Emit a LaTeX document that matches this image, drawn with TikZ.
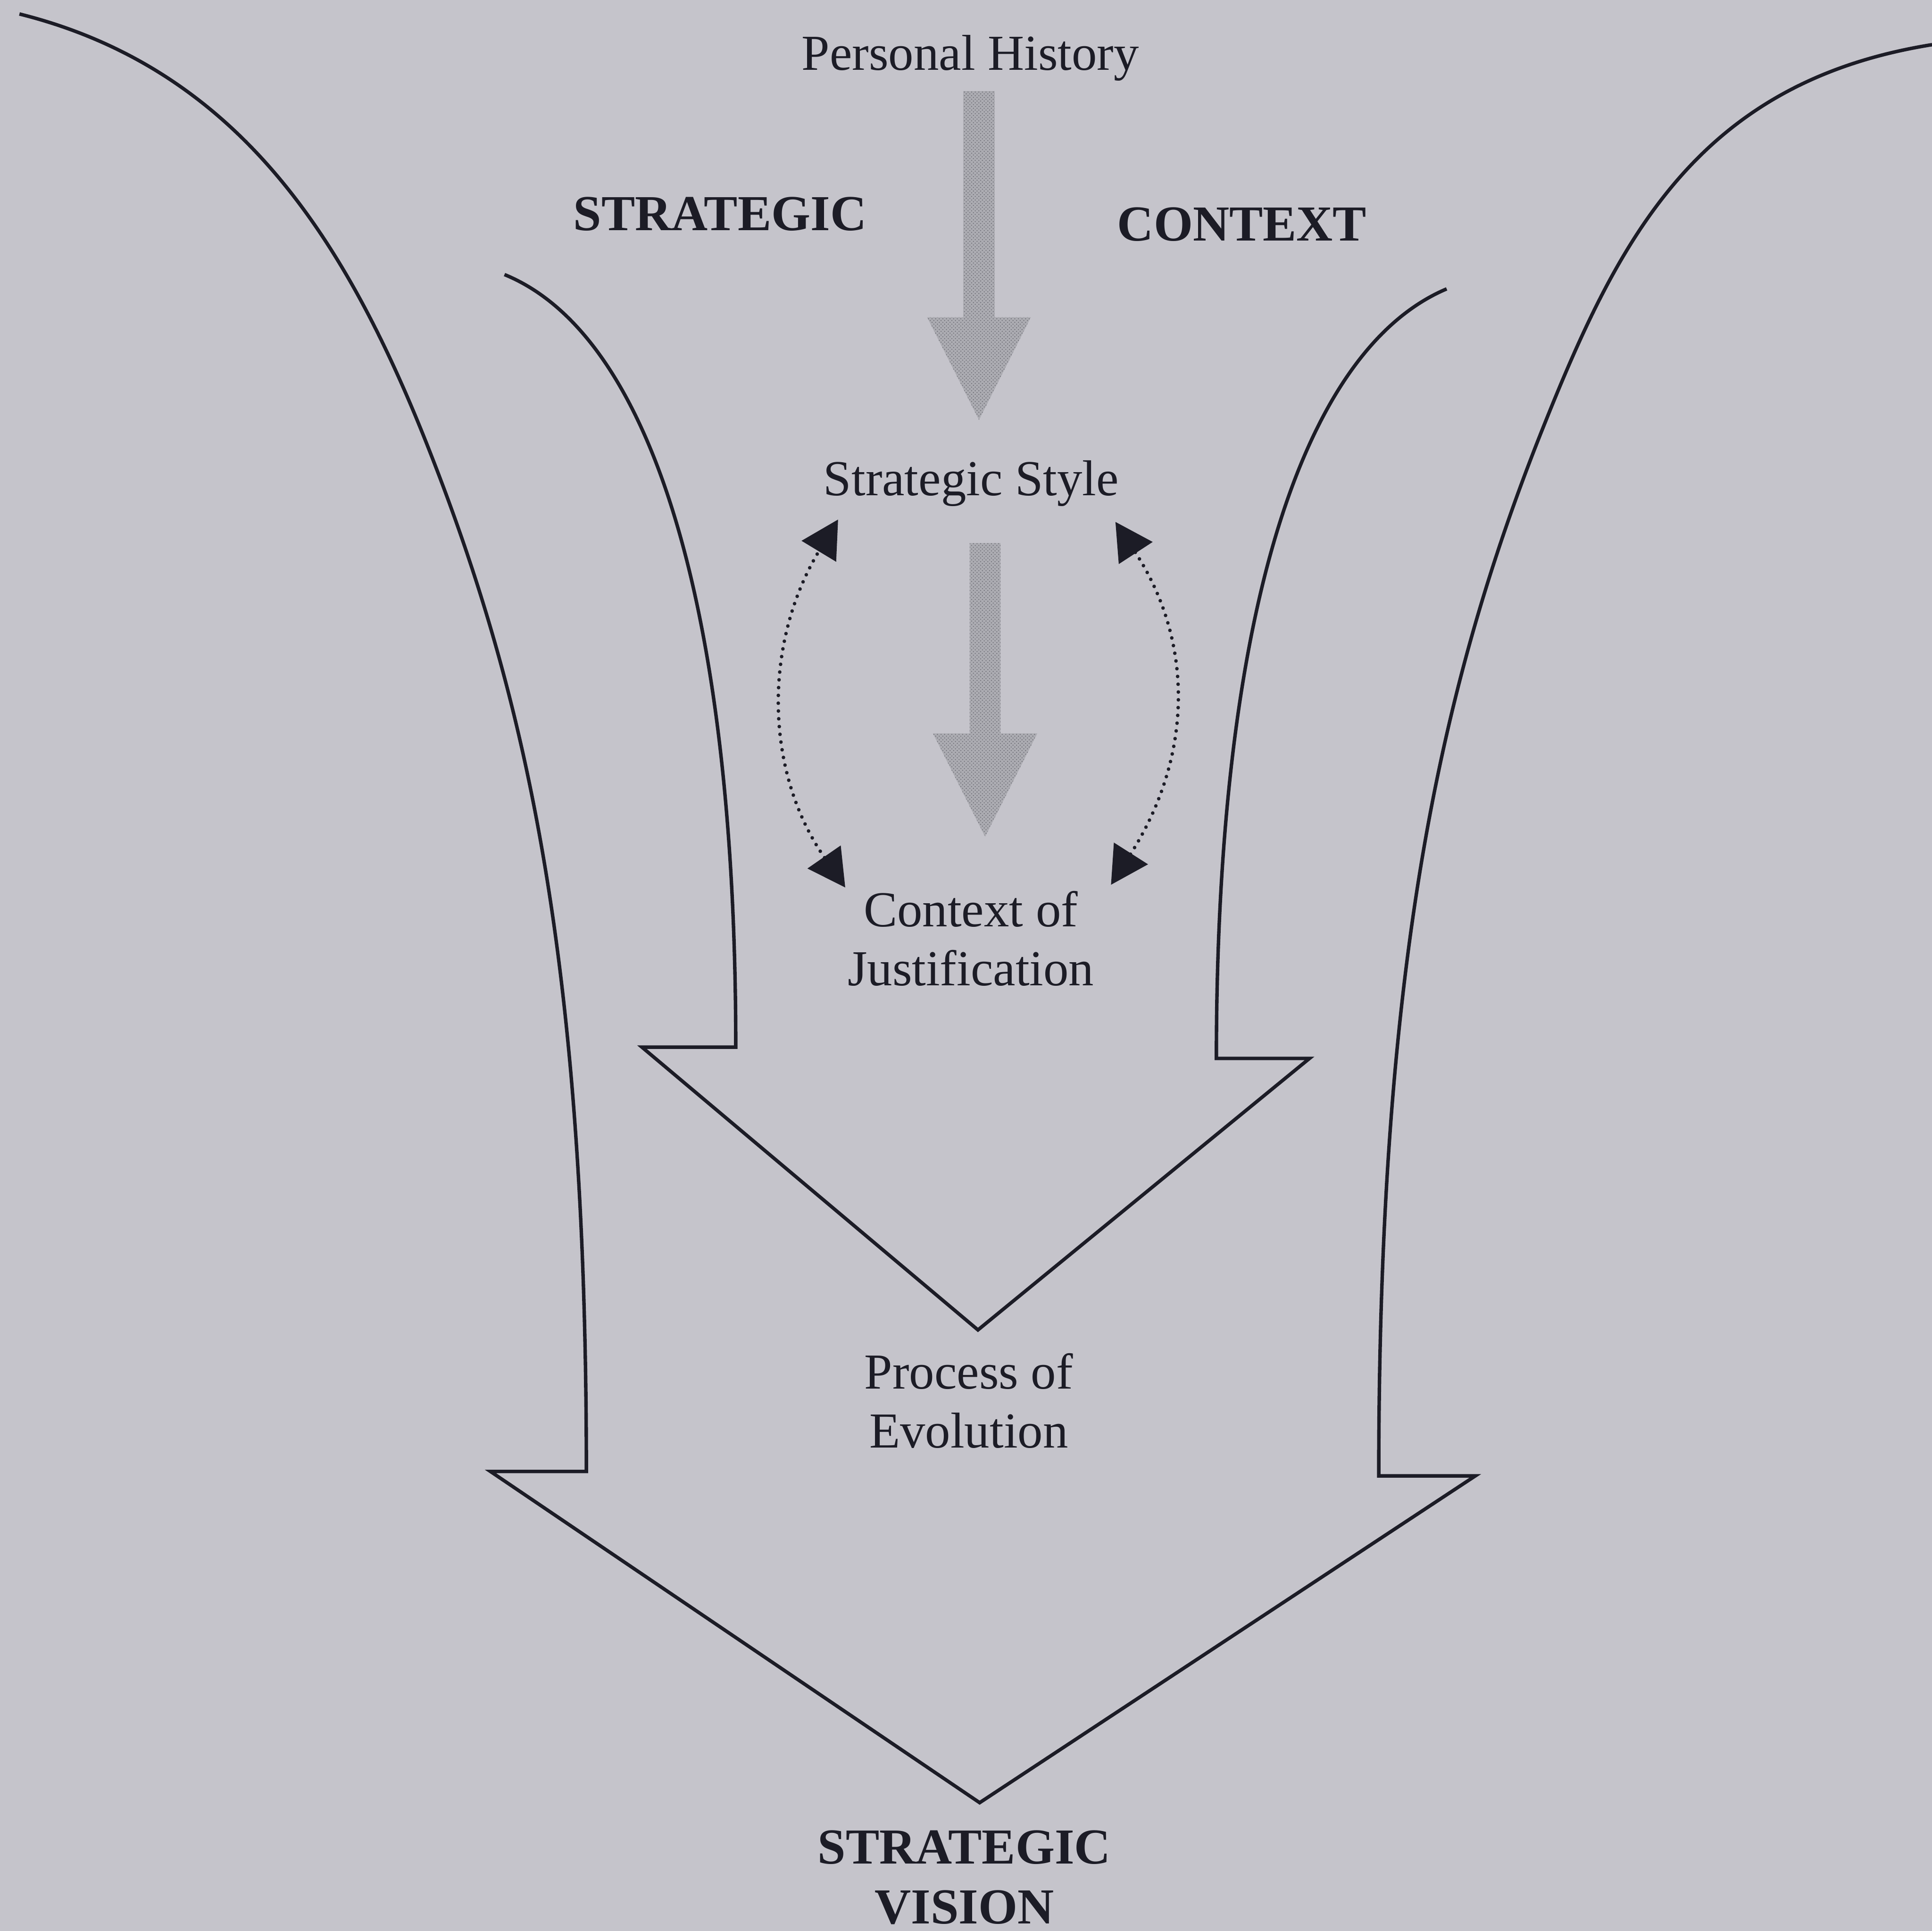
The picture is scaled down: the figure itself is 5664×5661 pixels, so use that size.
\documentclass[tikz,border=0pt]{standalone}
\usepackage{fontspec}
\setmainfont{Liberation Serif}
\usetikzlibrary{arrows.meta,patterns}

\definecolor{paper}{RGB}{197,196,203}
\definecolor{ink}{RGB}{28,28,38}
\definecolor{stipple}{RGB}{172,172,178}
\definecolor{grain}{RGB}{112,112,120}

\begin{document}
\begin{tikzpicture}[x=0.01cm, y=-0.01cm,
  plaintext/.style={text=ink, inner sep=0pt, align=center,
    font=\fontsize{42}{49.2}\selectfont},
  boldtext/.style={text=ink, inner sep=0pt, align=center,
    font=\fontsize{42}{50}\selectfont\bfseries},
  shapeline/.style={draw=ink, line width=2.9pt, line join=miter},
  flowarrow/.style={fill=stipple, draw=none,
    postaction={pattern=crosshatch dots, pattern color=grain}},
  linkarrow/.style={draw=ink, line width=3pt, line cap=round,
    dash pattern=on 0pt off 6.5pt,
    {Triangle[length=31pt,width=33pt]}-{Triangle[length=31pt,width=33pt]}}
]
% page
\fill[paper] (0,0) rectangle (5664,5661);
\useasboundingbox (0,0) rectangle (5664,5661);

% outer funnel: strategic context narrowing to the vision
\draw[shapeline]
  (57,41) .. controls (688,199) and (1006,687) .. (1247,1291)
          .. controls (1543,2035) and (1719,2814) .. (1719,4314)
  -- (1438,4314) -- (2872,5285) -- (4325,4327) -- (4042,4327)
  .. controls (4042,2827) and (4224,2007) .. (4520,1263)
  .. controls (4742,705) and (4973,242) .. (5664,131);

% inner funnel: process of evolution
\draw[shapeline]
  (1479,805) .. controls (1905,979) and (2157,1770) .. (2157,3070)
  -- (1882,3070) -- (2867,3899) -- (3839,3103) -- (3566,3103)
  .. controls (3566,1803) and (3818,1026) .. (4241,847);

% labels
\node[plaintext, anchor=base] (history) at (2845,205) {Personal History};
\node[boldtext, anchor=base] (strat) at (2111,675) {STRATEGIC};
\node[boldtext, anchor=base] (ctx) at (3641,706) {CONTEXT};
\node[plaintext, anchor=base] (style) at (2847,1452) {Strategic Style};
\node[plaintext, anchor=base] (justif) at (2846,2890) {Context of\\Justification};
\node[plaintext, anchor=base] (process) at (2840,4244) {Process of\\Evolution};
\node[boldtext, anchor=base] (vision) at (2827,5640) {STRATEGIC\\VISION};

% shaded block arrows
\fill[flowarrow] (2824,267) -- (2916,267) -- (2916,930) -- (3022,930)
  -- (2870,1231) -- (2718,930) -- (2824,930) -- cycle;
\fill[flowarrow] (2843,1592) -- (2933,1592) -- (2933,2150) -- (3041,2150)
  -- (2888,2453) -- (2735,2150) -- (2843,2150) -- cycle;

% two-way dotted links between style and justification
\coordinate (styleL) at (2457,1523);
\coordinate (justL) at (2478,2602);
\coordinate (styleR) at (3270,1530);
\coordinate (justR) at (3257,2594);
\draw[linkarrow] (justL) .. controls (2239,2257) and (2239,1883) .. (styleL);
\draw[linkarrow] (justR) .. controls (3499,2214) and (3499,1881) .. (styleR);
\end{tikzpicture}
\end{document}
